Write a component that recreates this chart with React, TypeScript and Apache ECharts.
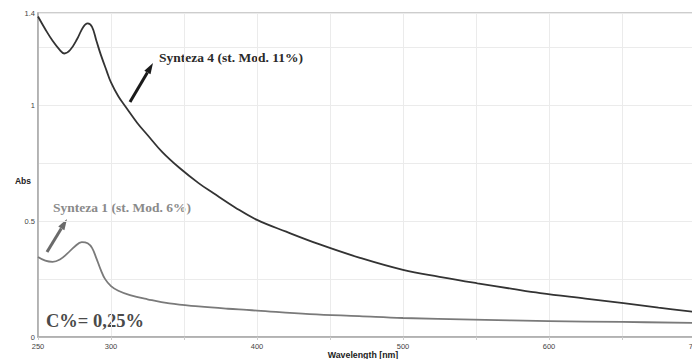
import React, { useEffect, useRef } from "react";
import * as echarts from "echarts";

const wavelengths4 = [250, 255, 260, 265, 268, 272, 277, 281, 284, 287, 290, 293, 297, 300, 305, 310, 318, 325, 335, 347, 360, 370, 385, 400, 420, 443, 470, 500, 525, 551, 575, 594, 625, 651, 675, 700];
const abs4 = [1.385, 1.33, 1.28, 1.24, 1.225, 1.24, 1.29, 1.34, 1.355, 1.34, 1.28, 1.22, 1.15, 1.1, 1.04, 0.995, 0.925, 0.873, 0.8, 0.73, 0.665, 0.622, 0.56, 0.506, 0.455, 0.4, 0.343, 0.29, 0.26, 0.232, 0.208, 0.19, 0.166, 0.146, 0.127, 0.108];

const wavelengths1 = [250, 255, 260, 265, 270, 275, 280, 284, 287, 290, 293, 296, 300, 305, 313, 325, 340, 360, 380, 393, 400, 436, 470, 500, 548, 600, 650, 700];
const abs1 = [0.346, 0.33, 0.325, 0.335, 0.36, 0.39, 0.41, 0.405, 0.385, 0.34, 0.29, 0.25, 0.22, 0.2, 0.181, 0.163, 0.145, 0.132, 0.122, 0.117, 0.114, 0.099, 0.09, 0.082, 0.075, 0.069, 0.065, 0.061];

const xTickLabels = [250, 300, 400, 500, 600, 700];
const yTickLabels = [0, 0.5, 1, 1.4];

const label4 = "Synteza 4 (st. Mod. 11%)";
const label1 = "Synteza 1 (st. Mod. 6%)";
const concLabel = "C%= 0,25%";

function arrow(x1: number, y1: number, x2: number, y2: number, color: string, w: number) {
  const dx = x2 - x1, dy = y2 - y1;
  const len = Math.sqrt(dx * dx + dy * dy);
  const ux = dx / len, uy = dy / len;
  const nx = -uy, ny = ux;
  const hl = 11, hw = 3.6;
  const bx = x2 - ux * hl, by = y2 - uy * hl;
  return {
    type: "group",
    children: [
      { type: "line", shape: { x1, y1, x2: bx, y2: by }, style: { stroke: color, lineWidth: w } },
      {
        type: "polygon",
        shape: { points: [[x2, y2], [bx + nx * hw, by + ny * hw], [bx - nx * hw, by - ny * hw]] },
        style: { fill: color },
      },
    ],
  };
}

export default function App() {
  const ref = useRef<HTMLDivElement>(null);
  useEffect(() => {
    const chart = echarts.init(ref.current!, null, { renderer: "svg" });
    const near = (v: number, arr: number[]) => arr.some((a) => Math.abs(a - v) < 1e-6);
    chart.setOption({
      animation: false,
      backgroundColor: "#ffffff",
      grid: {
        left: 38, right: -3, top: 13, bottom: 22,
        outerBoundsMode: "none", containLabel: false,
        show: true, borderColor: "#bdbdbd", borderWidth: 1.5, backgroundColor: "transparent",
      },
      xAxis: {
        type: "value",
        min: 250,
        max: 700,
        interval: 50,
        axisLine: { show: true, lineStyle: { color: "#a8a8a8", width: 1.5 } },
        axisTick: { show: true, length: 3, lineStyle: { color: "#cccccc" } },
        splitLine: { show: true, lineStyle: { color: "#ebebeb", width: 1 } },
        axisLabel: {
          fontFamily: "Liberation Sans",
          fontSize: 7.5,
          color: "#444",
          margin: 5,
          formatter: (v: number) => (near(v, xTickLabels) ? String(v) : ""),
        },
      },
      yAxis: {
        type: "value",
        min: 0,
        max: 1.4,
        interval: 0.25,
        axisLine: { show: true, lineStyle: { color: "#a8a8a8", width: 1.5 } },
        axisTick: { show: false },
        splitLine: { show: true, lineStyle: { color: "#ebebeb", width: 1 } },
        axisLabel: {
          fontFamily: "Liberation Sans",
          fontSize: 7.5,
          color: "#444",
          margin: 3,
          formatter: (v: number) => (near(v, yTickLabels) ? String(Math.round(v * 100) / 100) : ""),
        },
      },
      series: [
        {
          type: "line",
          name: label4,
          data: wavelengths4.map((w, i) => [w, abs4[i]]),
          smooth: 0.4,
          showSymbol: false,
          lineStyle: { color: "#333333", width: 1.8 },
        },
        {
          type: "line",
          name: label1,
          data: wavelengths1.map((w, i) => [w, abs1[i]]),
          smooth: 0.4,
          showSymbol: false,
          lineStyle: { color: "#7a7a7a", width: 1.8 },
        },
      ],
      graphic: [
        { type: "text", x: 23, y: 181, style: { text: "Abs", font: "bold 8.5px 'Liberation Sans'", fill: "#222", align: "center", verticalAlign: "middle" } },
        { type: "text", x: 363, y: 354.5, style: { text: "Wavelength [nm]", font: "bold 8.8px 'Liberation Sans'", fill: "#222", align: "center", verticalAlign: "middle" } },
        { type: "text", x: 159, y: 57, style: { text: label4, font: "bold 13.5px 'Liberation Serif'", fill: "#2a2a2a", align: "left", verticalAlign: "middle" } },
        { type: "text", x: 53, y: 207, style: { text: label1, font: "bold 13.5px 'Liberation Serif'", fill: "#8a8a8a", align: "left", verticalAlign: "middle" } },
        { type: "text", x: 46, y: 321, style: { text: concLabel, font: "bold 18.5px 'Liberation Serif'", fill: "#4a4a4a", align: "left", verticalAlign: "middle" } },
        arrow(130, 102, 153, 63, "#1a1a1a", 3),
        arrow(47, 252, 67, 219, "#6a6a6a", 3),
      ],
    });
    return () => chart.dispose();
  }, []);
  return <div ref={ref} style={{ width: 692, height: 359, position: "absolute", left: 0, top: 0 }} />;
}
